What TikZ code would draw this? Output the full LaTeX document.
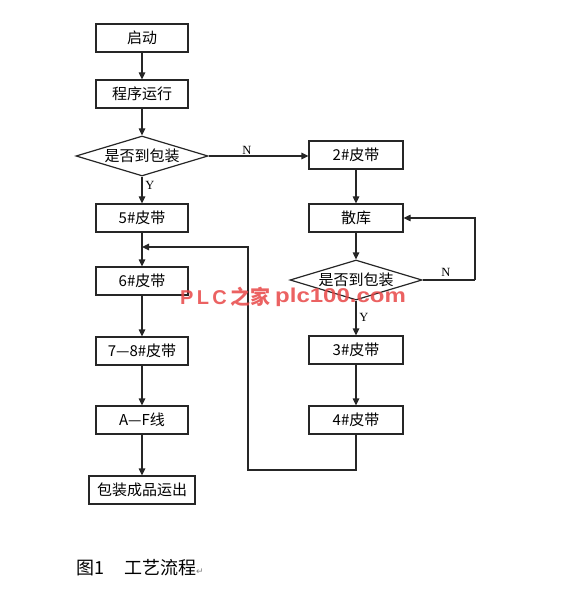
\documentclass[tikz,border=0pt]{standalone}
\usepackage{fontspec}
\usepackage{graphicx}
\setmainfont{Noto Sans CJK SC}
\newfontfamily\latinserif{Liberation Serif}
\newfontfamily\wmfont{Liberation Sans}
\newfontfamily\symfont{DejaVu Sans}
\usetikzlibrary{shapes.geometric,arrows.meta}
\begin{document}
\begin{tikzpicture}[x=1pt,y=-1pt,
  box/.style={draw=black!85,line width=1.2pt,minimum width=92pt,minimum height=28pt,inner sep=0pt,font=\fontsize{15}{15}\selectfont},
  dec/.style={draw=black!85,line width=1.2pt,diamond,aspect=3.3,minimum width=132pt,minimum height=40pt,inner sep=0pt,font=\fontsize{15}{15}\selectfont},
  flow/.style={draw=black!85,line width=1.2pt,-{Triangle[length=7pt,width=6.5pt]}},
  line/.style={draw=black!85,line width=1.2pt},
  lab/.style={font=\latinserif\fontsize{12.5}{12.5}\selectfont,inner sep=0pt},
  wm/.style={anchor=west,inner sep=0pt,text={rgb,255:red,232;green,70;blue,70},opacity=0.85,font=\bfseries\fontsize{20}{20}\selectfont}]
\useasboundingbox (0,0) rectangle (584,593);
\node[box] (start) at (142,38) {启动};
\node[box] (run) at (142,94) {程序运行};
\node[dec] (d1) at (142,156) {是否到包装};
\node[box] (b5) at (142,218) {5\#皮带};
\node[box] (b6) at (142,281) {6\#皮带};
\node[box] (b78) at (142,351) {7—8\#皮带};
\node[box] (af) at (142,420) {A—F线};
\node[box,minimum width=106pt] (out) at (142,490) {包装成品运出};
\node[box,minimum width=94pt] (b2) at (356,155) {2\#皮带};
\node[box,minimum width=94pt] (sk) at (356,218) {散库};
\node[dec,minimum width=132pt] (d2) at (356,280) {是否到包装};
\node[box,minimum width=94pt] (b3) at (356,350) {3\#皮带};
\node[box,minimum width=94pt] (b4) at (356,420) {4\#皮带};
\coordinate (j) at (142,247);
\coordinate (c1) at (356,470);
\coordinate (c2) at (248,470);
\coordinate (c3) at (248,247);
\coordinate (r1) at (475,280);
\coordinate (r2) at (475,218);
\draw[flow] (start) -- (run);
\draw[flow] (run) -- (d1);
\draw[flow] (d1) -- (b5);
\draw[flow] (d1.east) -- (b2.west |- d1.east);
\draw[flow] (b5) -- (b6);
\draw[flow] (b6) -- (b78);
\draw[flow] (b78) -- (af);
\draw[flow] (af) -- (out);
\draw[flow] (b2) -- (sk);
\draw[flow] (sk) -- (d2);
\draw[flow] (d2) -- (b3);
\draw[flow] (b3) -- (b4);
\draw[line] (d2.east) -- (r1);
\draw[flow] (r1) -- (r2) -- (sk.east);
\draw[flow] (b4.south) -- (c1) -- (c2) -- (c3) -- (j);
\node[lab] (n1) at (247,150) {N};
\node[lab] (y1) at (150,185) {Y};
\node[lab] (n2) at (446,272) {N};
\node[lab] (y2) at (364,317) {Y};
\node[anchor=west,inner sep=0pt,font=\fontsize{18}{18}\selectfont] (cap) at (76,568) {图1\hspace{20pt}工艺流程{\symfont\fontsize{9}{9}\selectfont\color{gray}↵}};
\node[wm] (wm1) at (180,297) {{\wmfont P\,L\,C\,}之家};
\node[wm] (wm2) at (275,297) {\scalebox{1.2}[1]{\wmfont plc100.com}};
\end{tikzpicture}
\end{document}
